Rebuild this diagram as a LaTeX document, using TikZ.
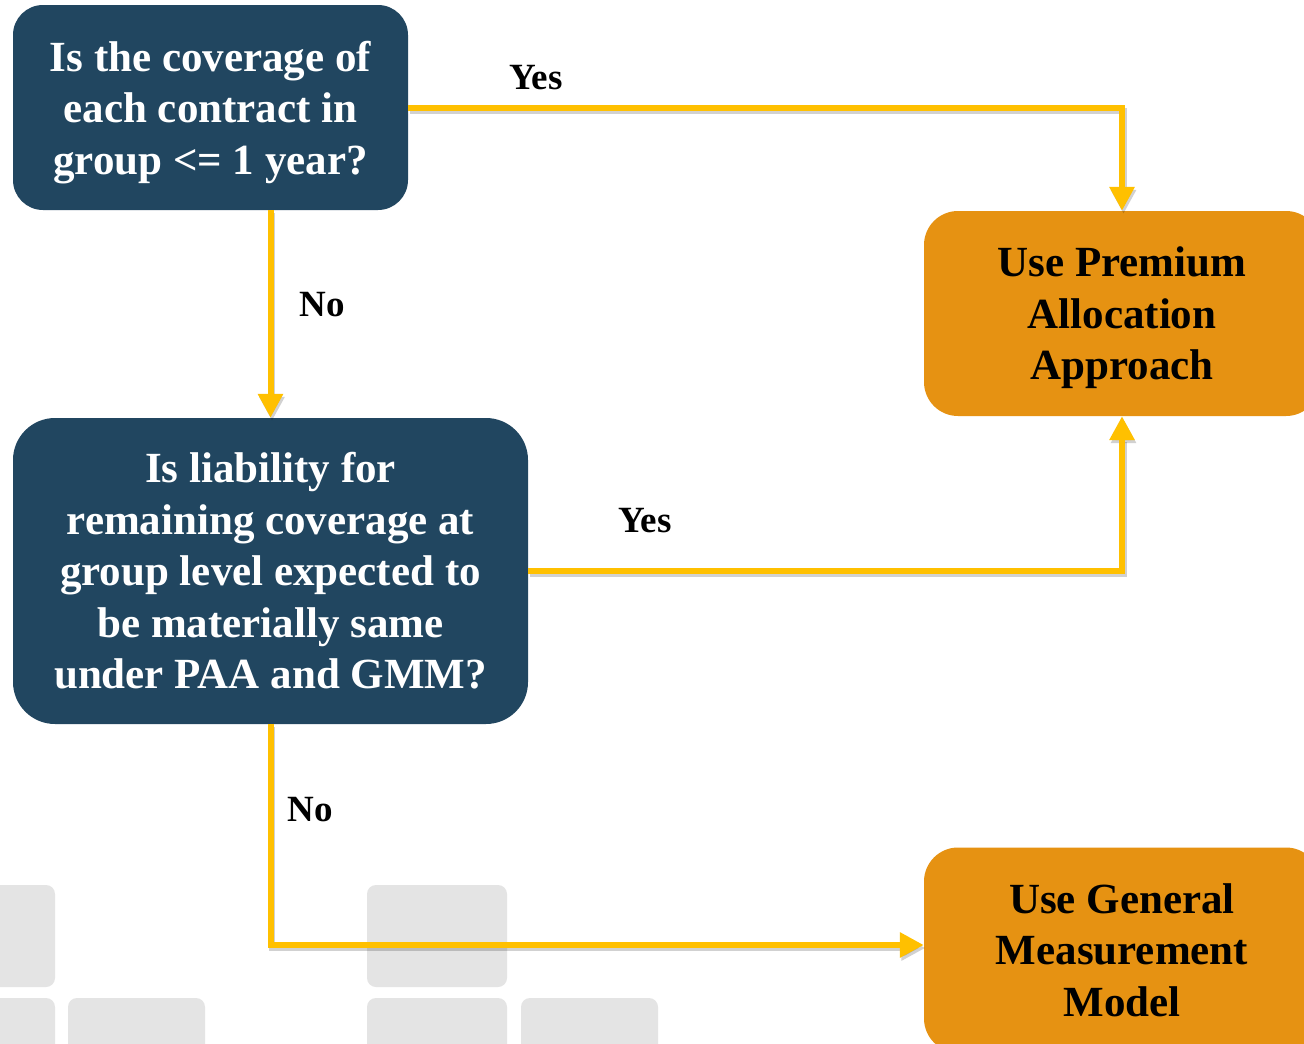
\documentclass[tikz,border=0pt]{standalone}
\usepackage{fontspec}
\setmainfont{Liberation Serif}
\usetikzlibrary{arrows.meta,calc}
\definecolor{deepblue}{HTML}{214660}
\definecolor{amber}{HTML}{E69212}
\definecolor{gold}{HTML}{FFC000}
\definecolor{tile}{HTML}{E4E4E4}
\tikzset{
  question/.style={fill=deepblue, text=white, inner sep=0pt, align=center,
    font=\fontsize{43}{51.5}\selectfont\bfseries},
  outcome/.style={fill=amber, text=black, inner sep=0pt, align=center,
    minimum width=396pt, minimum height=205pt, rounded corners=34pt,
    font=\fontsize{43}{51.5}\selectfont\bfseries},
  answer/.style={inner sep=0pt, font=\fontsize{37}{40}\selectfont\bfseries},
  flow/.style={draw=gold, line width=6pt,
    -{Triangle[width=24pt,length=24pt]},
    preaction={draw=black, opacity=0.18, line width=6pt,
      transform canvas={shift={(1.5pt,-3pt)}}}},
  bgtile/.style={fill=tile, rounded corners=9pt}
}
\begin{document}
\begin{tikzpicture}[x=1pt,y=-1pt]
\clip (0,0) rectangle (1304,1044);
\fill[white] (0,0) rectangle (1304,1044);

% faint background tiles
\fill[bgtile] (-85,885) rectangle (55,987);
\fill[bgtile] (-85,998) rectangle (55,1100);
\fill[bgtile] (68,998) rectangle (205,1100);
\fill[bgtile] (367,885) rectangle (507,987);
\fill[bgtile] (367,998) rectangle (507,1100);
\fill[bgtile] (521,998) rectangle (658,1100);

% decision and outcome boxes
\node[question, minimum width=395pt, minimum height=205pt, rounded corners=30pt,
  text depth=0pt]
  (A) at (210.5,107.5) {Is the coverage of\\each contract in\\group <= 1 year?};
\node[question, minimum width=515pt, minimum height=306pt, rounded corners=42pt]
  (B) at (270.5,571) {Is liability for\\remaining coverage at\\group level expected to\\be materially same\\under PAA and GMM?};
\node[outcome, text depth=0pt] (C) at (1122,313.5) {Use Premium\\Allocation\\Approach};
\node[outcome] (D) at (1122,950) {Use General\\Measurement\\Model};

% connectors
\draw[flow] (A.east) -| (C.north);
\draw[flow] (A.south -| B.north) -- (B.north);
\draw[flow] (B.east) -| (C.south);
\draw[flow] (B.south) |- ([yshift=5pt]D.west);

% branch labels
\node[answer] (y1) at (536,78) {Yes};
\node[answer] (n1) at (322,305) {No};
\node[answer] (y2) at (645,521) {Yes};
\node[answer] (n2) at (310,810) {No};
\end{tikzpicture}
\end{document}
